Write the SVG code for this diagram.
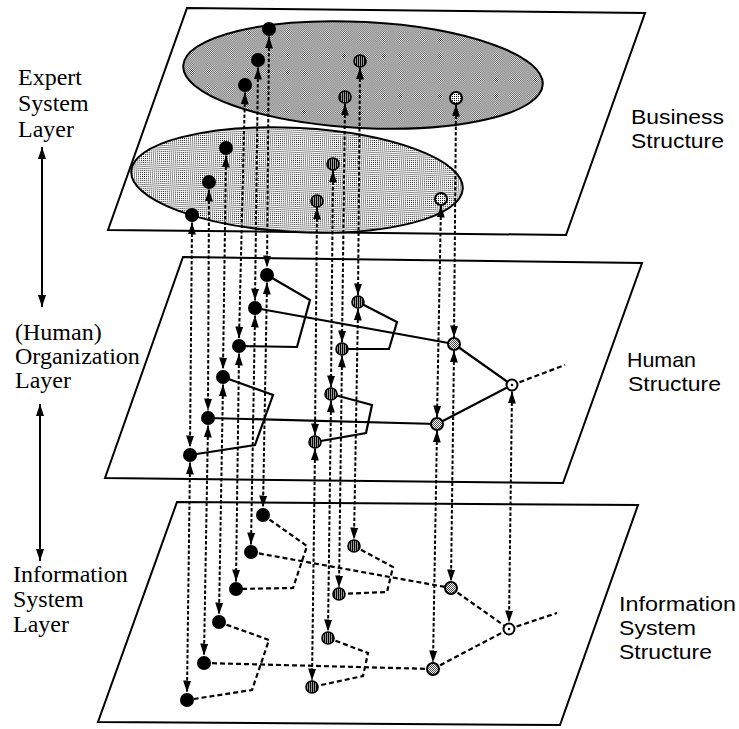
<svg xmlns="http://www.w3.org/2000/svg" width="739" height="729" viewBox="0 0 739 729">
<defs>
<pattern id="dotsDark" width="2" height="2" patternUnits="userSpaceOnUse"><rect width="2" height="2" fill="#fff"/><rect width="1" height="1" fill="#4a4a4a"/><rect x="1" y="1" width="1" height="1" fill="#4a4a4a"/></pattern>
<pattern id="dotsLight" width="2" height="2" patternUnits="userSpaceOnUse"><rect width="2" height="2" fill="#fff"/><rect width="1" height="1" fill="#111"/></pattern>
<pattern id="hatch" width="2" height="2" patternUnits="userSpaceOnUse"><rect width="2" height="2" fill="#999"/><rect width="1" height="2" fill="#000"/></pattern>
<marker id="ah" viewBox="0 0 12 8" refX="12" refY="4" markerWidth="12" markerHeight="8" markerUnits="userSpaceOnUse" orient="auto-start-reverse"><path d="M0,0 L12,4 L0,8 z" fill="#000"/></marker>
</defs>
<style>
.plane{fill:none;stroke:#000;stroke-width:2}
.ell{stroke:#000;stroke-width:2}
.vl{fill:none;stroke:#000;stroke-width:2;stroke-dasharray:3.5 2;marker-start:url(#ah);marker-end:url(#ah)}
.sl{fill:none;stroke:#000;stroke-width:2.2;stroke-linejoin:miter}
.dl{fill:none;stroke:#000;stroke-width:2.2;stroke-dasharray:5 3}
.la{fill:none;stroke:#000;stroke-width:2;marker-start:url(#ah);marker-end:url(#ah)}
.b{fill:#000}
.g{fill:url(#hatch);stroke:#000;stroke-width:1.6}
.e{fill:url(#dotsDark);stroke:#000;stroke-width:2}
.w{fill:url(#dotsLight);stroke:#000;stroke-width:2}
.o{fill:#fff;stroke:#000;stroke-width:2}
.ser{font-family:"Liberation Serif","Times New Roman",serif;font-size:24px;fill:#000}
.san{font-family:"Liberation Sans",Arial,sans-serif;font-size:21px;fill:#000}
</style>

<g id="planes">
<polygon id="plane-business" class="plane" points="187,8 645,13 566,235 108,230"/>
<polygon id="plane-human" class="plane" points="183,257 642,263 563,483 105,478"/>
<polygon id="plane-info" class="plane" points="177,502 638,505 560,725 98,722"/>
</g>

<g id="ellipses">
<ellipse id="ellipse-back" class="ell" cx="363" cy="75" rx="180" ry="53" transform="rotate(3 363 75)" fill="url(#dotsDark)"/>
<ellipse id="ellipse-front" class="ell" cx="297" cy="180" rx="166" ry="52" transform="rotate(3 297 180)" fill="url(#dotsLight)"/>
</g>

<g id="labels">
<text class="ser" x="18" y="85">Expert</text>
<text class="ser" x="18" y="111">System</text>
<text class="ser" x="18" y="137">Layer</text>
<text class="ser" x="15" y="340">(Human)</text>
<text class="ser" x="15" y="364">Organization</text>
<text class="ser" x="15" y="388">Layer</text>
<text class="ser" x="13" y="582">Information</text>
<text class="ser" x="13" y="607">System</text>
<text class="ser" x="13" y="632">Layer</text>
<text class="san" x="631" y="124" textLength="93" lengthAdjust="spacingAndGlyphs">Business</text>
<text class="san" x="631" y="148" textLength="93" lengthAdjust="spacingAndGlyphs">Structure</text>
<text class="san" x="627" y="367" textLength="69" lengthAdjust="spacingAndGlyphs">Human</text>
<text class="san" x="628" y="391" textLength="93" lengthAdjust="spacingAndGlyphs">Structure</text>
<text class="san" x="619" y="611" textLength="117" lengthAdjust="spacingAndGlyphs">Information</text>
<text class="san" x="619" y="635" textLength="77" lengthAdjust="spacingAndGlyphs">System</text>
<text class="san" x="619" y="659" textLength="93" lengthAdjust="spacingAndGlyphs">Structure</text>
</g>

<g id="connectors">
<line class="la" x1="42" y1="147" x2="42" y2="307"/>
<line class="la" x1="40" y1="404" x2="40" y2="561"/>
<!-- human structure solid links -->
<polyline class="sl" points="267,275 310,300 297,347 239,346"/>
<line class="sl" x1="255" y1="308" x2="454" y2="344"/>
<polyline class="sl" points="358,302 397,322 389,349 342,349"/>
<polyline class="sl" points="223,377 273,395 255,445 190,455"/>
<line class="sl" x1="208" y1="418" x2="437" y2="424"/>
<polyline class="sl" points="331,394 372,405 366,433 315,442"/>
<line class="sl" x1="454" y1="344" x2="512" y2="385"/>
<line class="sl" x1="437" y1="424" x2="512" y2="385"/>
<line class="dl" x1="512" y1="385" x2="565" y2="365"/>
<!-- information system dashed links -->
<polyline class="dl" points="263,515 307,546 293,588 236,589"/>
<line class="dl" x1="251" y1="552" x2="451" y2="588"/>
<polyline class="dl" points="354,546 393,567 387,592 339,594"/>
<polyline class="dl" points="219,622 269,640 252,690 187,700"/>
<line class="dl" x1="204" y1="663" x2="433" y2="669"/>
<polyline class="dl" points="328,638 368,653 363,676 312,687"/>
<line class="dl" x1="451" y1="588" x2="509" y2="629"/>
<line class="dl" x1="433" y1="669" x2="509" y2="629"/>
<line class="dl" x1="509" y1="629" x2="557" y2="613"/>
<!-- vertical inter-layer links -->
<line class="vl" x1="269" y1="36.5" x2="267" y2="267.5"/>
<line class="vl" x1="267" y1="282.5" x2="263" y2="507.5"/>
<line class="vl" x1="258" y1="67.5" x2="255" y2="300.5"/>
<line class="vl" x1="255" y1="315.5" x2="251" y2="544.5"/>
<line class="vl" x1="245" y1="92.5" x2="239" y2="338.5"/>
<line class="vl" x1="239" y1="353.5" x2="236" y2="581.5"/>
<line class="vl" x1="226" y1="155.5" x2="223" y2="369.5"/>
<line class="vl" x1="223" y1="384.5" x2="219" y2="614.5"/>
<line class="vl" x1="209" y1="189.5" x2="208" y2="410.5"/>
<line class="vl" x1="208" y1="425.5" x2="204" y2="655.5"/>
<line class="vl" x1="192" y1="222.5" x2="190" y2="447.5"/>
<line class="vl" x1="190" y1="462.5" x2="187" y2="692.5"/>
<line class="vl" x1="360" y1="67.5" x2="358" y2="295.5"/>
<line class="vl" x1="358" y1="308.5" x2="354" y2="539.5"/>
<line class="vl" x1="345" y1="103.5" x2="342" y2="342.5"/>
<line class="vl" x1="342" y1="355.5" x2="339" y2="587.5"/>
<line class="vl" x1="333" y1="170.5" x2="331" y2="387.5"/>
<line class="vl" x1="331" y1="400.5" x2="328" y2="631.5"/>
<line class="vl" x1="317" y1="207.5" x2="315" y2="435.5"/>
<line class="vl" x1="315" y1="448.5" x2="312" y2="680.5"/>
<line class="vl" x1="456" y1="104.5" x2="454" y2="337.5"/>
<line class="vl" x1="454" y1="350.5" x2="451" y2="581.5"/>
<line class="vl" x1="441" y1="205.5" x2="437" y2="417.5"/>
<line class="vl" x1="437" y1="430.5" x2="433" y2="662.5"/>
<line class="vl" x1="512" y1="391.5" x2="509" y2="622.5"/>
</g>

<g id="nodes-business">
<g id="bs-b1"><circle class="b" cx="269" cy="29" r="7"/></g>
<g id="bs-b2"><circle class="b" cx="258" cy="60" r="7"/></g>
<g id="bs-b3"><circle class="b" cx="245" cy="85" r="7"/></g>
<g id="bs-b4"><circle class="b" cx="226" cy="148" r="7"/></g>
<g id="bs-b5"><circle class="b" cx="209" cy="182" r="7"/></g>
<g id="bs-b6"><circle class="b" cx="192" cy="215" r="7"/></g>
<g id="bs-g1"><circle class="g" cx="360" cy="61" r="6"/></g>
<g id="bs-g2"><circle class="g" cx="345" cy="97" r="6"/></g>
<g id="bs-g3"><circle class="g" cx="333" cy="164" r="6"/></g>
<g id="bs-g4"><circle class="g" cx="317" cy="201" r="6"/></g>
<g id="bs-l1"><circle class="w" cx="456" cy="98" r="6"/></g>
<g id="bs-l2"><circle class="w" cx="441" cy="199" r="6"/></g>
</g>

<g id="nodes-human">
<g id="hs-b1"><circle class="b" cx="267" cy="275" r="7"/></g>
<g id="hs-b2"><circle class="b" cx="255" cy="308" r="7"/></g>
<g id="hs-b3"><circle class="b" cx="239" cy="346" r="7"/></g>
<g id="hs-b4"><circle class="b" cx="223" cy="377" r="7"/></g>
<g id="hs-b5"><circle class="b" cx="208" cy="418" r="7"/></g>
<g id="hs-b6"><circle class="b" cx="190" cy="455" r="7"/></g>
<g id="hs-g1"><circle class="g" cx="358" cy="302" r="6"/></g>
<g id="hs-g2"><circle class="g" cx="342" cy="349" r="6"/></g>
<g id="hs-g3"><circle class="g" cx="331" cy="394" r="6"/></g>
<g id="hs-g4"><circle class="g" cx="315" cy="442" r="6"/></g>
<g id="hs-l1"><circle class="e" cx="454" cy="344" r="6"/></g>
<g id="hs-l2"><circle class="e" cx="437" cy="424" r="6"/></g>
<g id="hs-l3"><circle class="o" cx="512" cy="385" r="5.5"/><circle cx="512" cy="385" r="1.2" fill="#000"/></g>
</g>

<g id="nodes-info">
<g id="is-b1"><circle class="b" cx="263" cy="515" r="7"/></g>
<g id="is-b2"><circle class="b" cx="251" cy="552" r="7"/></g>
<g id="is-b3"><circle class="b" cx="236" cy="589" r="7"/></g>
<g id="is-b4"><circle class="b" cx="219" cy="622" r="7"/></g>
<g id="is-b5"><circle class="b" cx="204" cy="663" r="7"/></g>
<g id="is-b6"><circle class="b" cx="187" cy="700" r="7"/></g>
<g id="is-g1"><circle class="g" cx="354" cy="546" r="6"/></g>
<g id="is-g2"><circle class="g" cx="339" cy="594" r="6"/></g>
<g id="is-g3"><circle class="g" cx="328" cy="638" r="6"/></g>
<g id="is-g4"><circle class="g" cx="312" cy="687" r="6"/></g>
<g id="is-l1"><circle class="e" cx="451" cy="588" r="6"/></g>
<g id="is-l2"><circle class="e" cx="433" cy="669" r="6"/></g>
<g id="is-l3"><circle class="o" cx="509" cy="629" r="5.5"/><circle cx="509" cy="629" r="1.2" fill="#000"/></g>
</g>
</svg>
